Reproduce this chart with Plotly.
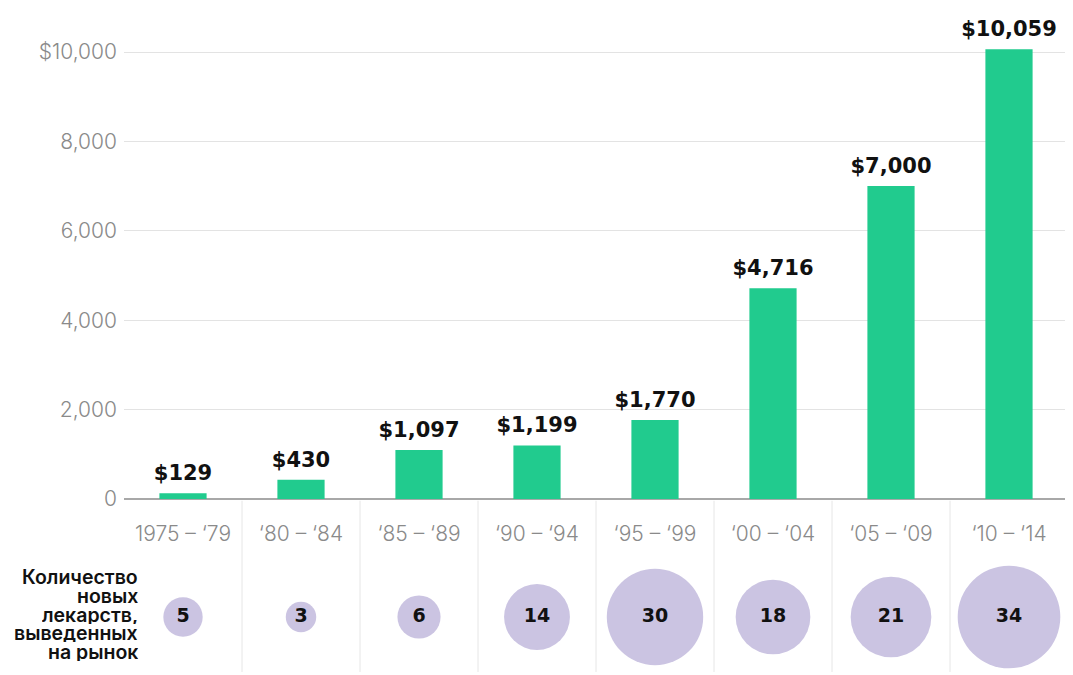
import numpy as np
import plotly.graph_objects as go

periods = ["1975 – ‘79", "‘80 – ‘84", "‘85 – ‘89", "‘90 – ‘94",
           "‘95 – ‘99", "‘00 – ‘04", "‘05 – ‘09", "‘10 – ‘14"]
cost = [129, 430, 1097, 1199, 1770, 4716, 7000, 10059]
new_drugs = [5, 3, 6, 14, 30, 18, 21, 34]
y_ticks = [0, 2000, 4000, 6000, 8000, 10000]
y_tick_text = ["0", "2,000", "4,000", "6,000", "8,000", "$10,000"]
side_label_lines = ["Количество", "новых", "лекарств,", "выведенных", "на рынок"]

GREEN = "#21CB8E"
LAVENDER = "#CBC4E2"
GREY_TXT = "#8a8a8a"

# The page body has an 8px margin, so the figure sits 8px right/down in the window.
W, H = 1073, 675

xs = list(range(len(periods)))

fig = go.Figure()
fig.add_trace(go.Bar(
    x=xs, y=cost, marker=dict(color=GREEN, line=dict(width=0)),
    hoverinfo="skip", width=0.4,
))
fig.add_trace(go.Scatter(
    x=xs, y=cost, mode="markers+text",
    marker=dict(size=11, color="rgba(0,0,0,0)"),
    text=["$" + f"{v:,}" for v in cost], textposition="top center",
    textfont=dict(family="DejaVu Sans", size=21, color="#111111", weight="bold"),
    cliponaxis=False, hoverinfo="skip",
))
fig.add_trace(go.Scatter(
    x=xs, y=[0.5] * len(xs), yaxis="y2", mode="markers+text",
    marker=dict(color=LAVENDER, size=[17.6 * np.sqrt(n) for n in new_drugs],
                sizemode="diameter", line=dict(width=0), opacity=1),
    text=[str(n) for n in new_drugs], textposition="middle center",
    textfont=dict(family="DejaVu Sans", size=19, color="#111111", weight="bold"),
    cliponaxis=False, hoverinfo="skip",
))

shapes = []
for i in range(len(periods) - 1):
    shapes.append(dict(type="line", xref="x", yref="paper", x0=i + 0.5, x1=i + 0.5,
                       y0=0.0163, y1=0.270, line=dict(color="#e6e6e6", width=1)))

line_y0 = 569  # figure px of first label line centre
annotations = []
for k, line in enumerate(side_label_lines):
    yp = line_y0 + 18.8 * k
    annotations.append(dict(xref="paper", yref="paper", x=0.0159, y=(H - yp) / H,
                            xanchor="right", yanchor="middle", align="right",
                            valign="middle", height=18, borderpad=0,
                            text=line, showarrow=False,
                            font=dict(family="Inter", size=19.5, color="#111111",
                                      weight=600)))

fig.update_layout(
    width=W, height=H,
    margin=dict(l=116, r=13, t=0, b=0, autoexpand=False),
    paper_bgcolor="white", plot_bgcolor="white",
    showlegend=False,
    bargap=0.6,
    xaxis=dict(range=[-0.5, len(periods) - 0.5], tickmode="array", tickvals=xs,
               ticktext=periods, showgrid=False, zeroline=False, showline=False,
               ticks="", ticklabelstandoff=20, automargin=False,
               tickfont=dict(family="Inter", size=21, color=GREY_TXT, weight=300),
               fixedrange=True),
    yaxis=dict(domain=[0.2726, 0.9944], range=[0, 10900], tickmode="array",
               tickvals=y_ticks, ticktext=y_tick_text, showgrid=True,
               gridcolor="#e3e3e3", gridwidth=1, zeroline=True,
               zerolinecolor="#a8a8a8", zerolinewidth=1.5, ticks="",
               ticklabelstandoff=6, automargin=False,
               tickfont=dict(family="Inter", size=21, color=GREY_TXT, weight=300)),
    yaxis2=dict(domain=[0, 0.1956], range=[0, 1], visible=False, anchor="x"),
    shapes=shapes,
    annotations=annotations,
)

fig.write_html("out.html")
